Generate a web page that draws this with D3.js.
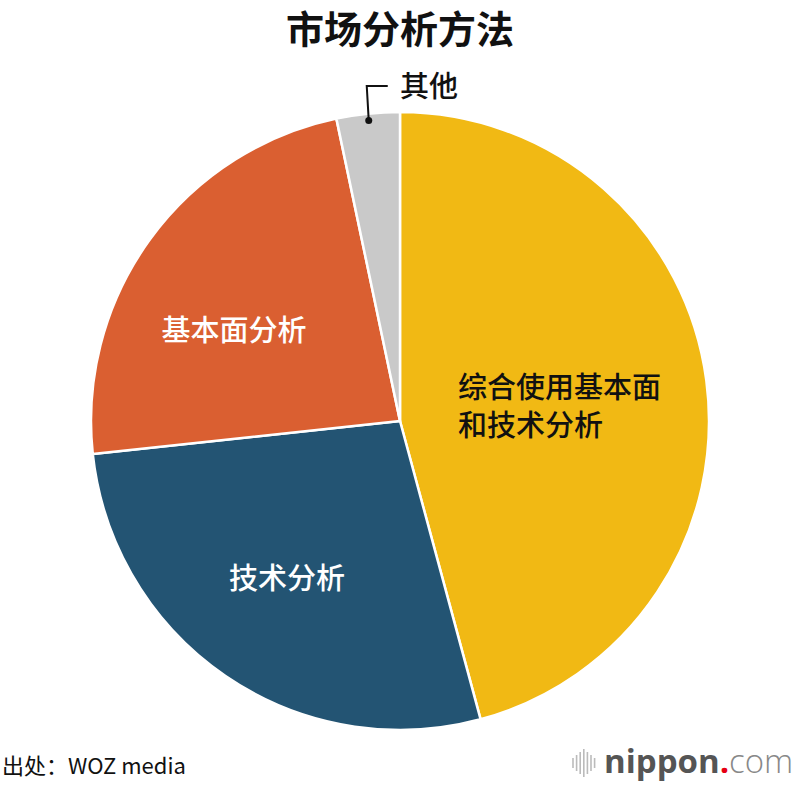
<!DOCTYPE html>
<html><head><meta charset="utf-8">
<script src="https://cdn.jsdelivr.net/npm/d3@7"></script>
<style>body{margin:0;background:#fff}svg{display:block}</style>
</head><body>
<svg id="c" width="800" height="786"></svg>
<script>
const categories = ["综合使用基本面和技术分析", "技术分析", "基本面分析", "其他"];
const values = [45.8, 27.5, 23.4, 3.3];
const colors = ["#F1B914", "#235473", "#DA5F31", "#C9C9C9"];
const title = "市场分析方法";
const source = "出处：WOZ media";

const svg = d3.select("#c");
const font = "'Noto Sans CJK SC','Noto Sans',sans-serif";
const cx = 400, cy = 421, r = 309;

svg.append("text").attr("x", 400).attr("y", 43).attr("text-anchor", "middle")
  .attr("font-family", font).attr("font-weight", 700).attr("font-size", 38).attr("fill", "#111").text(title);

const pie = d3.pie().sort(null).value(d => d)(values);
const arc = d3.arc().innerRadius(0).outerRadius(r);
const g = svg.append("g").attr("transform", `translate(${cx},${cy})`);
g.selectAll("path").data(pie).join("path")
  .attr("d", arc).attr("fill", (d, i) => colors[i])
  .attr("stroke", "#fff").attr("stroke-width", 2.5).attr("stroke-linejoin", "round");

// labels
const lab = svg.append("g").attr("font-family", font).attr("font-size", 29).attr("font-weight", 500);
lab.append("text").attr("x", 458).attr("y", 398).attr("fill", "#111").text("综合使用基本面");
lab.append("text").attr("x", 458).attr("y", 436).attr("fill", "#111").text("和技术分析");
lab.append("text").attr("x", 287).attr("y", 589).attr("text-anchor", "middle").attr("fill", "#fff").text(categories[1]);
lab.append("text").attr("x", 234).attr("y", 341).attr("text-anchor", "middle").attr("fill", "#fff").text(categories[2]);
lab.append("text").attr("x", 400).attr("y", 97).attr("fill", "#111").text(categories[3]);

// leader for 其他
const mid = (pie[3].startAngle + pie[3].endAngle) / 2;
const px = cx + Math.sin(mid) * (r - 7), py = cy - Math.cos(mid) * (r - 7);
svg.append("path").attr("d", `M${px},${py} L${px - 2},86 L${px + 19},86`)
  .attr("fill", "none").attr("stroke", "#111").attr("stroke-width", 2);
svg.append("circle").attr("cx", px).attr("cy", py).attr("r", 3.5).attr("fill", "#111");

// footer
svg.append("text").attr("x", 2).attr("y", 774).attr("font-family", font).attr("font-size", 22)
  .attr("fill", "#111").text(source);

// logo
const lg = svg.append("g");
const bars = [10, 16, 22, 28, 22, 16, 10];
bars.forEach((h, i) => {
  lg.append("line").attr("x1", 573 + i * 3.6).attr("x2", 573 + i * 3.6)
    .attr("y1", 763 - h / 2).attr("y2", 763 + h / 2)
    .attr("stroke", "#bbb").attr("stroke-width", 1.6);
});
const t = lg.append("text").attr("x", 604).attr("y", 773).attr("font-family", "'Open Sans',sans-serif").attr("font-size", 33);
t.append("tspan").attr("font-weight", 700).attr("fill", "#555").text("nippon");
t.append("tspan").attr("font-weight", 700).attr("fill", "#e60012").text(".");
t.append("tspan").attr("font-weight", 300).attr("fill", "#888").text("com");
</script>
</body></html>
